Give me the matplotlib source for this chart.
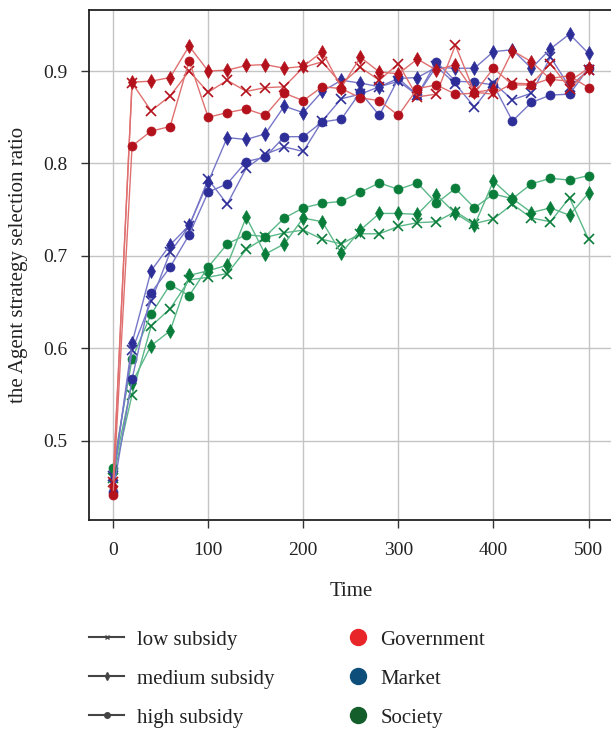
import matplotlib.pyplot as plt
from matplotlib.lines import Line2D

plt.rcParams['font.family'] = ['Liberation Serif', 'DejaVu Serif']

## time steps
time = [0, 20, 40, 60, 80, 100, 120, 140, 160, 180, 200, 220, 240,
        260, 280, 300, 320, 340, 360, 380, 400, 420, 440, 460, 480, 500]

## Government (red)
gov_low = [0.456, 0.887, 0.857, 0.873, 0.900, 0.877, 0.890, 0.878, 0.882, 0.883, 0.904, 0.910, 0.886,
           0.904, 0.890, 0.908, 0.872, 0.875, 0.928, 0.877, 0.875, 0.887, 0.886, 0.908, 0.881, 0.901]
gov_medium = [0.450, 0.888, 0.889, 0.893, 0.927, 0.900, 0.901, 0.906, 0.907, 0.903, 0.905, 0.921, 0.882,
              0.915, 0.899, 0.897, 0.913, 0.901, 0.907, 0.877, 0.880, 0.922, 0.910, 0.891, 0.889, 0.903]
gov_high = [0.441, 0.819, 0.835, 0.840, 0.911, 0.850, 0.855, 0.859, 0.852, 0.876, 0.868, 0.883, 0.881,
            0.871, 0.868, 0.852, 0.881, 0.885, 0.875, 0.876, 0.903, 0.885, 0.885, 0.892, 0.895, 0.882]

## Market (blue)
mkt_low = [0.462, 0.598, 0.651, 0.704, 0.732, 0.783, 0.756, 0.795, 0.810, 0.818, 0.813, 0.846, 0.870,
           0.875, 0.883, 0.889, 0.874, 0.905, 0.886, 0.861, 0.887, 0.869, 0.876, 0.915, 0.883, 0.901]
mkt_medium = [0.458, 0.606, 0.684, 0.712, 0.733, 0.780, 0.828, 0.826, 0.832, 0.862, 0.855, 0.878, 0.890,
              0.887, 0.883, 0.892, 0.893, 0.904, 0.903, 0.903, 0.921, 0.923, 0.903, 0.924, 0.940, 0.919]
mkt_high = [0.445, 0.567, 0.660, 0.688, 0.723, 0.769, 0.778, 0.802, 0.807, 0.829, 0.829, 0.845, 0.848,
            0.877, 0.852, 0.892, 0.874, 0.910, 0.889, 0.888, 0.885, 0.846, 0.866, 0.874, 0.875, 0.903]

## Society (green)
soc_low = [0.460, 0.550, 0.624, 0.643, 0.674, 0.677, 0.681, 0.707, 0.720, 0.725, 0.728, 0.718, 0.713,
           0.724, 0.724, 0.732, 0.736, 0.737, 0.748, 0.735, 0.740, 0.756, 0.741, 0.737, 0.763, 0.718]
soc_medium = [0.465, 0.563, 0.603, 0.619, 0.679, 0.684, 0.690, 0.742, 0.702, 0.713, 0.741, 0.737, 0.703,
              0.728, 0.746, 0.746, 0.745, 0.766, 0.746, 0.733, 0.781, 0.762, 0.747, 0.752, 0.744, 0.768]
soc_high = [0.471, 0.589, 0.637, 0.669, 0.657, 0.688, 0.713, 0.723, 0.721, 0.741, 0.752, 0.757, 0.759,
            0.769, 0.779, 0.772, 0.779, 0.757, 0.773, 0.752, 0.767, 0.762, 0.778, 0.784, 0.782, 0.787]

levels = ["low subsidy", "medium subsidy", "high subsidy"]
agents = ["Government", "Market", "Society"]

fig = plt.figure(figsize=(6.11, 7.29), dpi=100)
ax = fig.add_axes([89.3 / 611, 1 - 519.5 / 729, 523 / 611, 509.5 / 729])

styles = {
    "low": dict(marker="x", ms=6.5, mew=1.2),
    "medium": dict(marker="d", ms=7.5, mew=0.5),
    "high": dict(marker="o", ms=6.5, mew=0.5),
}
series = [
    (soc_low, "low", "#5cb888", "#0a7d3b"),
    (soc_medium, "medium", "#5cb888", "#0a7d3b"),
    (soc_high, "high", "#5cb888", "#0a7d3b"),
    (mkt_low, "low", "#7777c8", "#2e2e98"),
    (mkt_medium, "medium", "#7777c8", "#2e2e98"),
    (mkt_high, "high", "#7777c8", "#2e2e98"),
    (gov_low, "low", "#e07070", "#b3121c"),
    (gov_medium, "medium", "#e07070", "#b3121c"),
    (gov_high, "high", "#e07070", "#b3121c"),
]
for vals, lev, lc, mc in series:
    ax.plot(time, vals, color=lc, lw=1.0, mfc=mc, mec=mc, **styles[lev])

ax.set_xlim(-25, 525)
ax.set_ylim(0.415, 0.966)
ax.set_xticks([0, 100, 200, 300, 400, 500])
ax.set_yticks([0.5, 0.6, 0.7, 0.8, 0.9])
ax.set_yticklabels(["0.5", "0.6", "0.7", "0.8", "0.9"])
ax.grid(True, color="#c4c4c4", lw=1.0)
ax.set_axisbelow(True)
for s in ax.spines.values():
    s.set_color("#222222")
    s.set_linewidth(1.3)
ax.tick_params(length=6, width=1, color="#333333", labelsize=14, pad=10, labelcolor="#222222")
ax.set_xlabel("Time", fontsize=15, labelpad=17, color="#222222")
ax.set_ylabel("the Agent strategy selection ratio", fontsize=15, labelpad=11, color="#222222")

# legends
lev_handles = [
    Line2D([], [], color="#444444", lw=1.5, marker="x", ms=3.5, mew=1),
    Line2D([], [], color="#444444", lw=1.5, marker="d", ms=4),
    Line2D([], [], color="#444444", lw=1.5, marker="o", ms=4),
]
leg1 = fig.legend(lev_handles, levels, loc="upper left", bbox_to_anchor=(89 / 611, 1 - 630 / 729),
                  frameon=False, fontsize=15, handlelength=1.7, handletextpad=0.6,
                  labelspacing=0.93, borderpad=0, borderaxespad=0)
for t in leg1.get_texts():
    t.set_color("#222222")

agent_handles = [
    Line2D([], [], ls="none", marker="o", ms=11.5, color="#e8262a"),
    Line2D([], [], ls="none", marker="o", ms=11.5, color="#0d4f7a"),
    Line2D([], [], ls="none", marker="o", ms=11.5, color="#135e2a"),
]
leg2 = fig.legend(agent_handles, agents, loc="upper left", bbox_to_anchor=(348 / 611, 1 - 630 / 729),
                  frameon=False, fontsize=15, handlelength=1.0, handletextpad=0.55,
                  labelspacing=0.93, borderpad=0, borderaxespad=0)
for t in leg2.get_texts():
    t.set_color("#222222")

fig.savefig("out.png", dpi=100)
